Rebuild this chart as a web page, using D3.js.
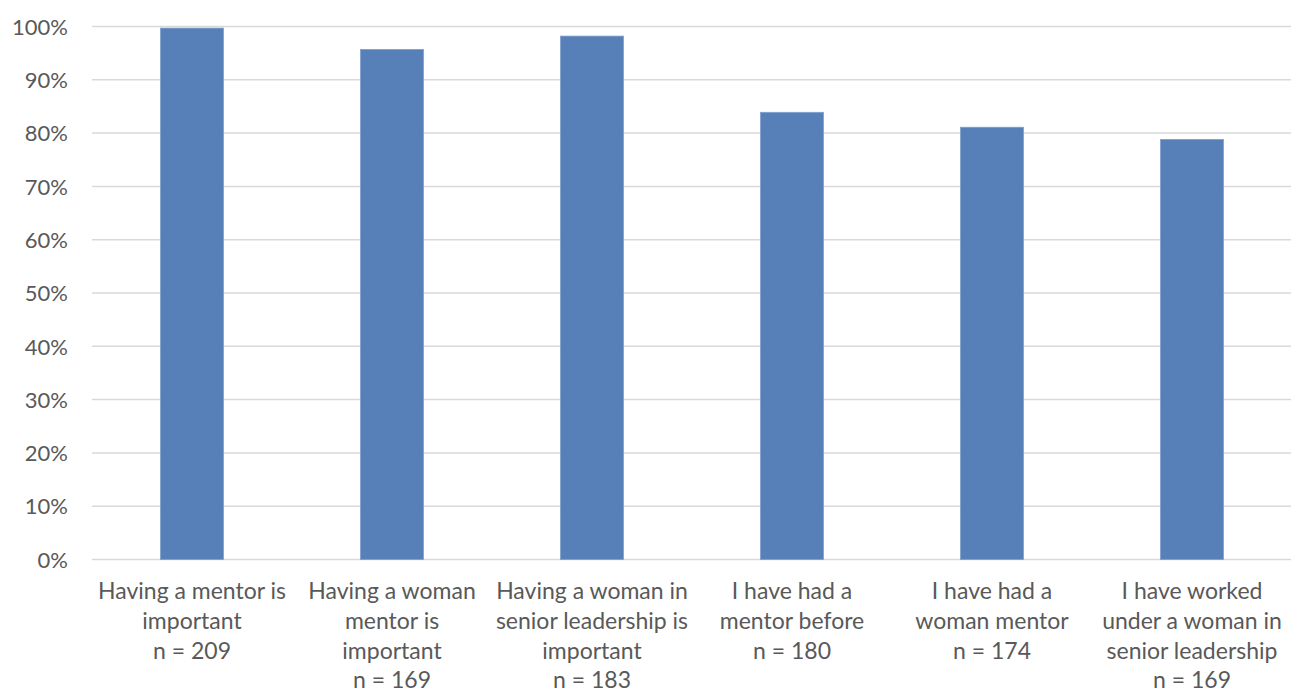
<!DOCTYPE html>
<html>
<head>
<meta charset="utf-8">
<script src="https://cdn.jsdelivr.net/npm/d3@7"></script>
<style>
  body { margin: 0; background: #fff; }
  svg text { font-family: Lato, "Open Sans", sans-serif; fill: #595959; }
</style>
</head>
<body>
<div id="chart"></div>
<script>
var categories = [
  ["Having a mentor is", "important", "n = 209"],
  ["Having a woman", "mentor is", "important", "n = 169"],
  ["Having a woman in", "senior leadership is", "important", "n = 183"],
  ["I have had a", "mentor before", "n = 180"],
  ["I have had a", "woman mentor", "n = 174"],
  ["I have worked", "under a woman in", "senior leadership", "n = 169"]
];
var values = [0.997, 0.957, 0.982, 0.839, 0.811, 0.788];
var yTicks = [0, 0.1, 0.2, 0.3, 0.4, 0.5, 0.6, 0.7, 0.8, 0.9, 1.0];

var W = 1291, H = 692;
var margin = {top: 26.5, left: 92, right: -1, bottom: 132.5};

var svg = d3.select("#chart").append("svg")
  .attr("width", W).attr("height", H);

var x = d3.scaleBand()
  .domain(d3.range(categories.length))
  .range([margin.left, W - margin.right])
  .paddingInner(0.685).paddingOuter(0.3425);

var y = d3.scaleLinear().domain([0, 1]).range([H - margin.bottom, margin.top]);

// gridlines
svg.append("g").selectAll("line").data(yTicks).enter().append("line")
  .attr("x1", margin.left).attr("x2", W)
  .attr("y1", function(d){ return y(d); }).attr("y2", function(d){ return y(d); })
  .style("stroke", "#d9d9d9").style("stroke-width", 1.5);

// y axis labels
var yAxis = svg.append("g")
  .attr("transform", "translate(" + (margin.left - 24) + ",0)")
  .call(d3.axisLeft(y).tickValues(yTicks).tickFormat(d3.format(".0%")).tickSize(0).tickPadding(0));
yAxis.select(".domain").remove();
yAxis.selectAll("text").style("font-size", "22px").attr("dy", "0.35em");

// bars
svg.append("g").selectAll("rect").data(values).enter().append("rect")
  .attr("x", function(d, i){ return x(i); })
  .attr("width", x.bandwidth())
  .attr("y", function(d){ return y(d); })
  .attr("height", function(d){ return y(0) - y(d); })
  .style("fill", "#5880b8")
  .style("stroke", "#7d9fcf").style("stroke-width", 0.8);

// x labels
var lab = svg.append("g").selectAll("text").data(categories).enter().append("text")
  .attr("text-anchor", "middle")
  .attr("transform", function(d, i){ return "translate(" + (x(i) + x.bandwidth()/2) + ",599)"; })
  .style("font-size", "23px");
lab.selectAll("tspan").data(function(d){ return d; }).enter().append("tspan")
  .attr("x", 0)
  .attr("y", function(d, j){ return j * 29.8; })
  .text(function(d){ return d; });
</script>
</body>
</html>
